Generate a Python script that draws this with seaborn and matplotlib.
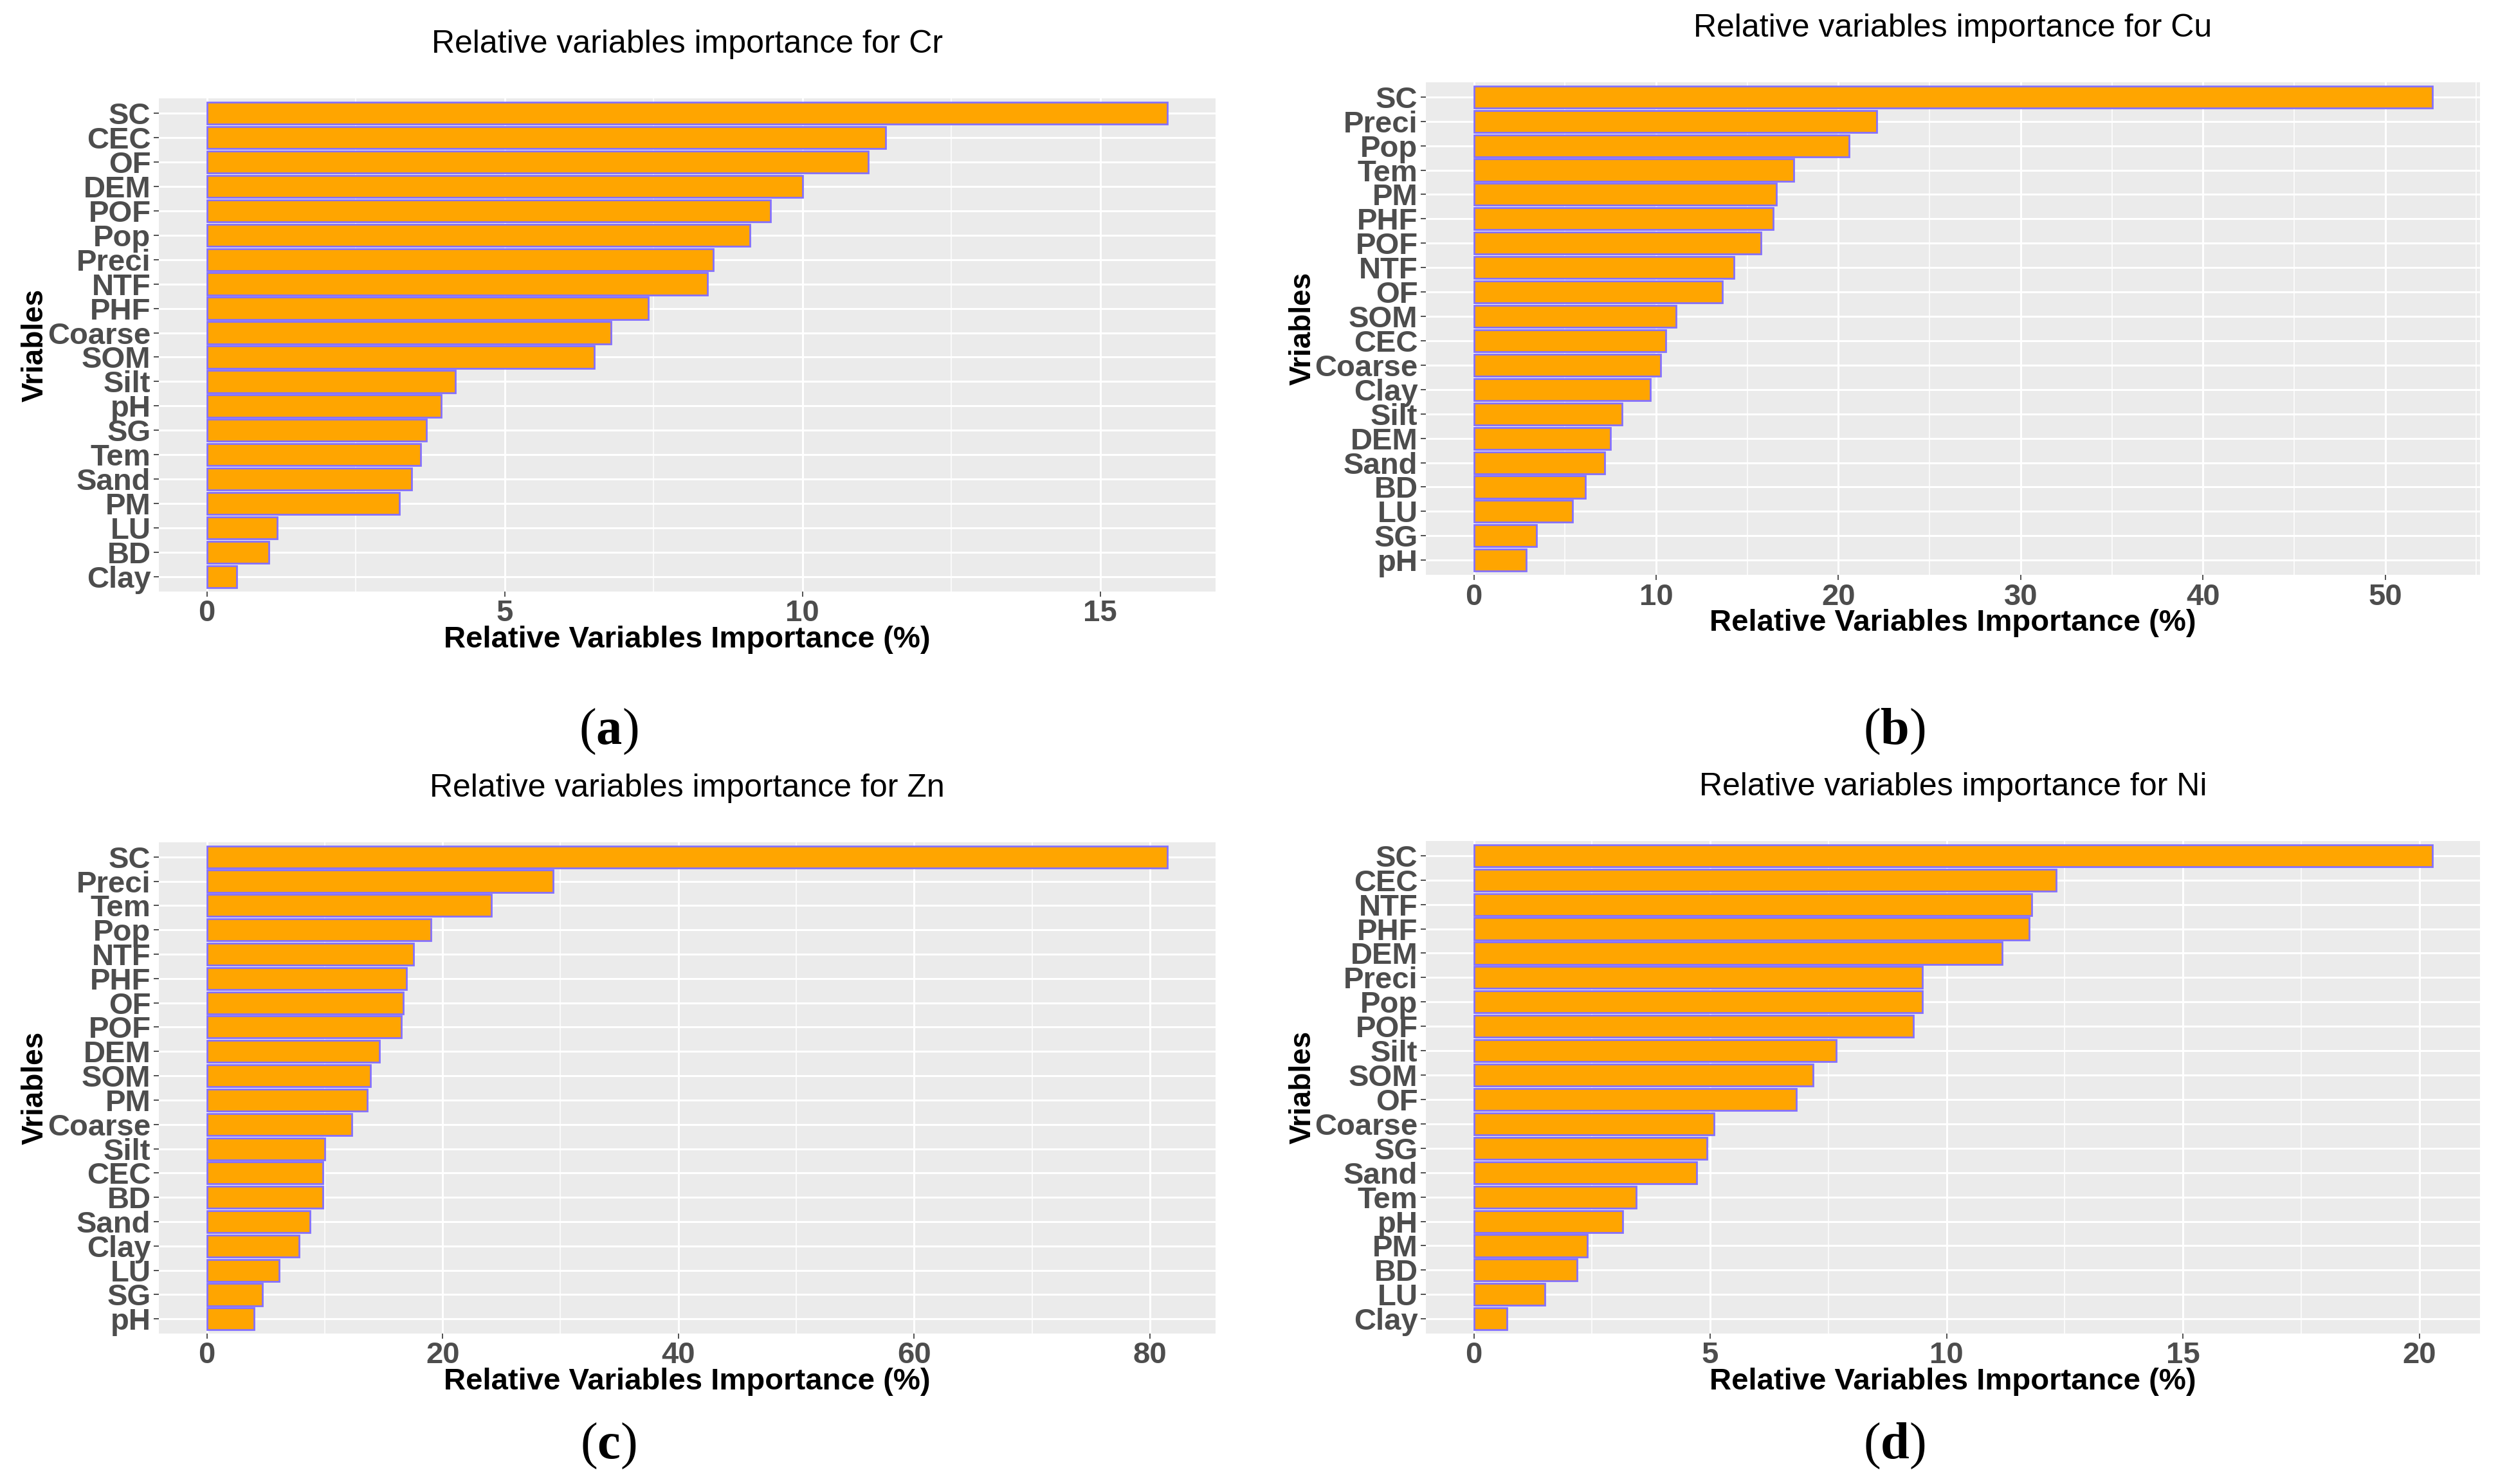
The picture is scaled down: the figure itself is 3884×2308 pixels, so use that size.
import numpy as np
import pandas as pd
import matplotlib
matplotlib.use("Agg")
import matplotlib.pyplot as plt
from matplotlib.ticker import MultipleLocator
import seaborn as sns

# ---------------- data ----------------
cr_vars = ["SC", "CEC", "OF", "DEM", "POF", "Pop", "Preci", "NTF", "PHF", "Coarse",
           "SOM", "Silt", "pH", "SG", "Tem", "Sand", "PM", "LU", "BD", "Clay"]
cr_vals = [16.13, 11.40, 11.11, 10.00, 9.46, 9.12, 8.50, 8.41, 7.41, 6.78,
           6.50, 4.17, 3.93, 3.69, 3.59, 3.44, 3.23, 1.18, 1.04, 0.50]

cu_vars = ["SC", "Preci", "Pop", "Tem", "PM", "PHF", "POF", "NTF", "OF", "SOM",
           "CEC", "Coarse", "Clay", "Silt", "DEM", "Sand", "BD", "LU", "SG", "pH"]
cu_vals = [52.57, 22.09, 20.60, 17.57, 16.60, 16.43, 15.74, 14.26, 13.65, 11.09,
           10.52, 10.26, 9.70, 8.13, 7.48, 7.17, 6.13, 5.43, 3.43, 2.87]

zn_vars = ["SC", "Preci", "Tem", "Pop", "NTF", "PHF", "OF", "POF", "DEM", "SOM",
           "PM", "Coarse", "Silt", "CEC", "BD", "Sand", "Clay", "LU", "SG", "pH"]
zn_vals = [81.5, 29.37, 24.13, 19.03, 17.54, 16.93, 16.66, 16.52, 14.62, 13.87,
           13.60, 12.30, 9.99, 9.86, 9.86, 8.77, 7.82, 6.12, 4.69, 4.01]

ni_vars = ["SC", "CEC", "NTF", "PHF", "DEM", "Preci", "Pop", "POF", "Silt", "SOM",
           "OF", "Coarse", "SG", "Sand", "Tem", "pH", "PM", "BD", "LU", "Clay"]
ni_vals = [20.27, 12.32, 11.80, 11.75, 11.18, 9.49, 9.49, 9.30, 7.66, 7.18,
           6.82, 5.08, 4.93, 4.71, 3.44, 3.15, 2.40, 2.18, 1.51, 0.70]

titles = ["Relative variables importance for Cr", "Relative variables importance for Cu",
          "Relative variables importance for Zn", "Relative variables importance for Ni"]
panel_tags = ["a", "b", "c", "d"]
major_steps = [5, 10, 20, 5]

# ---------------- style ----------------
sns.set_theme(style="white")
plt.rcParams["font.family"] = ["Liberation Sans", "DejaVu Sans"]
plt.rcParams["mathtext.fontset"] = "custom"
plt.rcParams["mathtext.rm"] = "Liberation Serif"
plt.rcParams["mathtext.bf"] = "Liberation Serif:bold"

W, H = 3884, 2308
fig = plt.figure(figsize=(W / 100, H / 100), dpi=100)

# axes rectangles in pixel space (left, top, right, bottom)
rects = [(247, 153, 1890, 920), (2217, 128, 3856, 894),
         (247, 1310, 1890, 2074), (2217, 1308, 3856, 2074)]

datasets = [(cr_vars, cr_vals), (cu_vars, cu_vals), (zn_vars, zn_vals), (ni_vars, ni_vals)]

BG = "#EBEBEB"
FILL = "#FFA500"
EDGE = "#8470FF"
TICKC = "#4D4D4D"

for i, ((vars_, vals), title, step) in enumerate(zip(datasets, titles, major_steps)):
    l, t, r, b = rects[i]
    ax = fig.add_axes([l / W, 1 - b / H, (r - l) / W, (b - t) / H])
    df = pd.DataFrame({"Variable": vars_, "Importance": vals})
    sns.barplot(data=df, x="Importance", y="Variable", order=vars_, orient="h",
                color=FILL, edgecolor=EDGE, linewidth=2.0, width=0.9,
                saturation=1, ax=ax, zorder=3)
    for p in ax.patches:
        p.set_facecolor(FILL)
        p.set_zorder(3)
    vmax = max(vals)
    ax.set_xlim(-0.05 * vmax, 1.05 * vmax)
    ax.set_ylim(len(vars_) - 1 + 0.6, -0.6)
    ax.set_facecolor(BG)
    for s in ax.spines.values():
        s.set_visible(False)
    ax.xaxis.set_major_locator(MultipleLocator(step))
    ax.xaxis.set_minor_locator(MultipleLocator(step / 2))
    ax.grid(which="major", axis="both", color="white", linewidth=2.2, zorder=0)
    ax.grid(which="minor", axis="x", color="white", linewidth=1.1, zorder=0)
    ax.set_axisbelow(True)
    ax.tick_params(axis="both", which="major", length=6, width=1.2, color="#333333",
                   labelsize=34, labelcolor=TICKC, pad=3, left=True, bottom=True)
    ax.tick_params(axis="x", which="minor", length=0)
    for lab in ax.get_yticklabels() + ax.get_xticklabels():
        lab.set_fontweight("bold")
    ax.set_xlabel("Relative Variables Importance (%)", fontsize=34, fontweight="bold",
                  color="black")
    ax.set_ylabel("Vriables", fontsize=33, fontweight="bold", color="black")
    ax.xaxis.set_label_coords(0.5, -0.098)
    ax.xaxis.label.set_va("center")
    ax.yaxis.set_label_coords(-0.117, 0.5)
    ax.yaxis.label.set_va("center")
    ax.text(0.5, 1.11, title, transform=ax.transAxes, ha="center", va="center",
            fontsize=36, color="black")

# panel tags
tag_pos = [(946, 1138), (2945, 1138), (946, 2249), (2945, 2249)]
for tag, (px, py) in zip(panel_tags, tag_pos):
    fig.text(px / W, 1 - py / H, r"$\mathrm{(}\mathbf{" + tag + r"}\mathrm{)}$",
             ha="center", va="center", fontsize=58, color="black")

fig.savefig("out.png", dpi=100, facecolor="white")
